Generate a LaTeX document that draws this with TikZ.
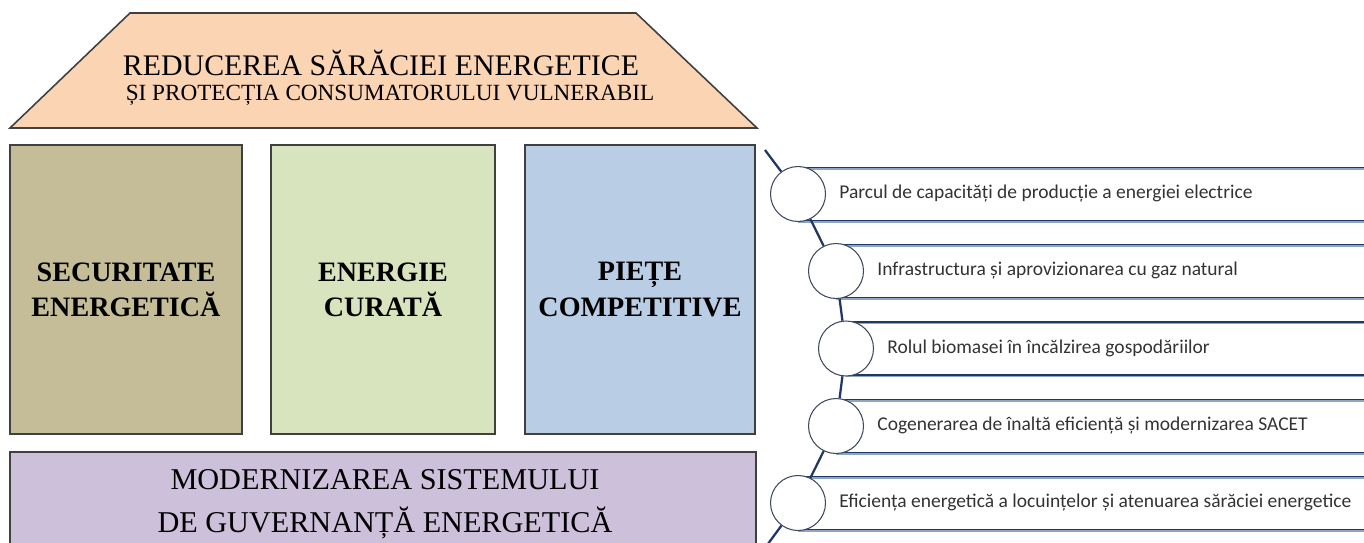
\documentclass[tikz,border=0pt]{standalone}
\usepackage{fontspec}
\setmainfont{Liberation Serif}
\newfontfamily\bandfont{Carlito}

\definecolor{roofc}{HTML}{FBD4B4}
\definecolor{secc}{HTML}{C4BD97}
\definecolor{curc}{HTML}{D7E4BD}
\definecolor{piec}{HTML}{B9CDE5}
\definecolor{govc}{HTML}{CCC0DA}
\definecolor{edgec}{HTML}{404040}
\definecolor{navy}{HTML}{1F3864}
\definecolor{shadec}{HTML}{8EA5C4}
\definecolor{ringc}{HTML}{3E4A5E}
\definecolor{itemc}{HTML}{333333}

\begin{document}
\begin{tikzpicture}[x=0.02cm, y=-0.02cm,
    pillar/.style={draw=edgec, line width=0.8pt, minimum height=5.78cm,
      inner sep=0pt, align=center, font=\bfseries\fontsize{16}{20}\selectfont},
    bullet/.style={circle, draw=ringc, line width=0.6pt, fill=white,
      minimum size=1.1cm, inner sep=0pt},
    item/.style={anchor=west, inner sep=0pt, text=itemc,
      font=\bandfont\fontsize{11.1}{13}\selectfont},
    bandline/.style={navy, line width=1.1pt},
    bandshade/.style={shadec, line width=0.8pt}]

  \useasboundingbox (0,0) rectangle (1364,542);
  \clip (0,0) rectangle (1364,542);

  \draw[edgec, line width=0.9pt, fill=roofc]
    (130,13) -- (636,13) -- (757,128) -- (10,128) -- cycle;
  \node[anchor=base, inner sep=0pt, font=\fontsize{17}{20}\selectfont] (roofa) at (381,75)
    {REDUCEREA SĂRĂCIEI ENERGETICE};
  \node[anchor=base, inner sep=0pt, font=\fontsize{13.2}{16}\selectfont] (roofb) at (390,100)
    {ȘI PROTECȚIA CONSUMATORULUI VULNERABIL};

  \node[pillar, fill=secc, minimum width=4.64cm] (sec) at (126,289.5) {SECURITATE\\ENERGETICĂ};
  \node[pillar, fill=curc, minimum width=4.48cm] (cur) at (383,289.5) {ENERGIE\\CURATĂ};
  \node[pillar, fill=piec, minimum width=4.6cm]  (pie) at (640,289.5) {PIEȚE\\COMPETITIVE};

  \draw[edgec, line width=0.8pt, fill=govc] (10,452) rectangle (756,600);
  \node[align=center, font=\fontsize{17.2}{24.4}\selectfont] (guv) at (385,504)
    {MODERNIZAREA SISTEMULUI\\DE GUVERNANȚĂ ENERGETICĂ};

  \foreach \i/\cx/\cy/\txt in {
      1/798/194/{Parcul de capacități de producție a energiei electrice},
      2/836/271/{Infrastructura și aprovizionarea cu gaz natural},
      3/846/348.5/{Rolul biomasei în încălzirea gospodăriilor},
      4/836/426/{Cogenerarea de înaltă eficiență și modernizarea SACET},
      5/798/503/{Eficiența energetică a locuințelor și atenuarea sărăciei energetice}} {
    \fill[white] (\cx,\cy-26.5) rectangle (1370,\cy+26.5);
    \draw[bandshade] (\cx,\cy-25) -- (1370,\cy-25);
    \draw[bandline] (\cx,\cy-26.5) -- (1370,\cy-26.5);
    \draw[bandshade] (\cx,\cy+28) -- (1370,\cy+28);
    \draw[bandline] (\cx,\cy+26.5) -- (1370,\cy+26.5);
    \node[bullet] (c\i) at (\cx,\cy) {};
    \node[item] (t\i) at (\cx+41,\cy) {\txt};
  }

  \coordinate (ctop) at (765,150);
  \coordinate (cbot) at (762,552);

  \begin{scope}[every edge/.style={draw=navy, line width=1.3pt}]
    \path (ctop) edge (c1);
    \path (c1)   edge (c2);
    \path (c2)   edge (c3);
    \path (c3)   edge (c4);
    \path (c4)   edge (c5);
    \path (c5)   edge (cbot);
  \end{scope}

\end{tikzpicture}
\end{document}
